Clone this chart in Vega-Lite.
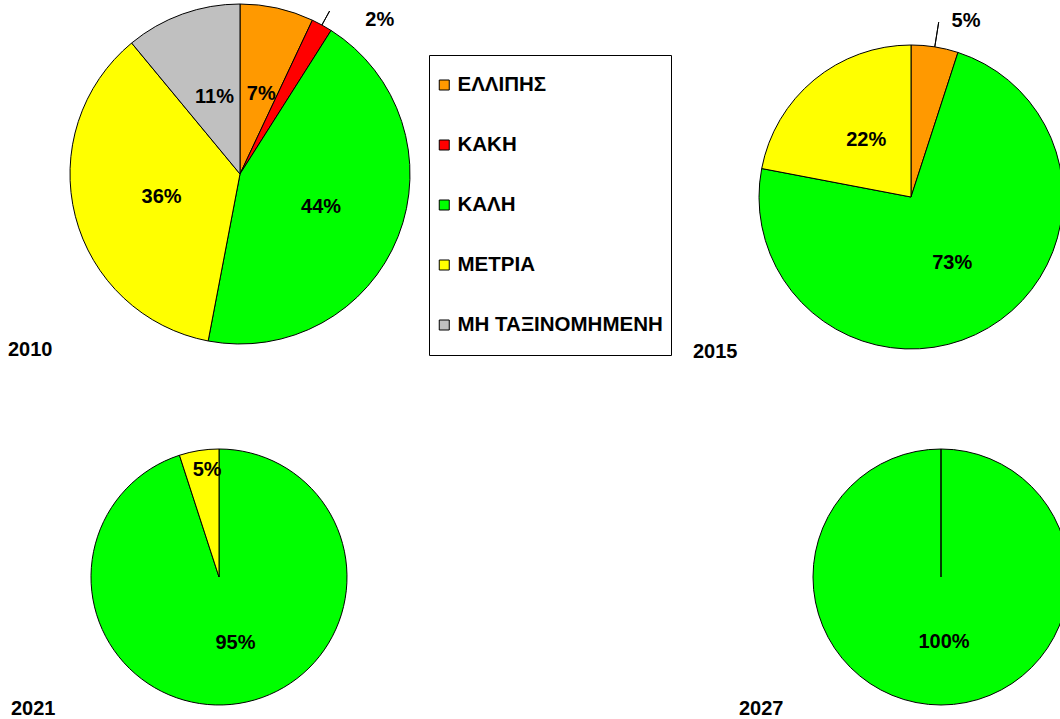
{
  "$schema": "https://vega.github.io/schema/vega-lite/v6.json",
  "padding": 0,
  "background": "white",
  "data": {"values": [
    {"year": 2010, "cat": "ΕΛΛΙΠΗΣ", "value": 0.07},
    {"year": 2010, "cat": "ΚΑΚΗ", "value": 0.02},
    {"year": 2010, "cat": "ΚΑΛΗ", "value": 0.44},
    {"year": 2010, "cat": "ΜΕΤΡΙΑ", "value": 0.36},
    {"year": 2010, "cat": "ΜΗ ΤΑΞΙΝΟΜΗΜΕΝΗ", "value": 0.11},
    {"year": 2015, "cat": "ΕΛΛΙΠΗΣ", "value": 0.05},
    {"year": 2015, "cat": "ΚΑΛΗ", "value": 0.73},
    {"year": 2015, "cat": "ΜΕΤΡΙΑ", "value": 0.22},
    {"year": 2021, "cat": "ΚΑΛΗ", "value": 0.95},
    {"year": 2021, "cat": "ΜΕΤΡΙΑ", "value": 0.05},
    {"year": 2027, "cat": "ΚΑΛΗ", "value": 1.0}
  ]},
  "spacing": 53,
  "vconcat": [
    {
      "hconcat": [
        {
          "width": 480, "height": 348,
          "title": {"text": "2010", "orient": "bottom", "anchor": "start", "frame": "group", "offset": 8, "dx": 8, "baseline": "alphabetic", "font": "Liberation Sans", "fontSize": 20, "fontWeight": "bold", "color": "black"},
          "transform": [{"filter": "datum.year == 2010"}],
          "layer": [
            {
              "mark": {"type": "arc", "outerRadius": 170, "stroke": "black", "strokeWidth": 1},
              "encoding": {
                "theta": {"field": "value", "type": "quantitative", "stack": true, "scale": {"domain": [0, 1]}},
                "order": {"field": "cat", "type": "ordinal"},
                "color": {"field": "cat", "type": "nominal", "scale": {"domain": ["ΕΛΛΙΠΗΣ", "ΚΑΚΗ", "ΚΑΛΗ", "ΜΕΤΡΙΑ", "ΜΗ ΤΑΞΙΝΟΜΗΜΕΝΗ"], "range": ["#FF9900", "#FF0000", "#00FF00", "#FFFF00", "#C0C0C0"]}, "legend": {"orient": "none", "legendX": 429, "legendY": 55, "title": null, "direction": "vertical", "symbolStrokeColor": "black"}}
              }
            },
            {
              "mark": {"type": "text", "radius": 84, "dx": 3, "dy": 2},
              "encoding": {
                "theta": {"field": "value", "type": "quantitative", "stack": true, "scale": {"domain": [0, 1]}},
                "order": {"field": "cat", "type": "ordinal"},
                "detail": {"field": "cat", "type": "nominal"},
                "text": {"field": "value", "type": "quantitative", "format": ".0%"},
                "opacity": {"condition": {"test": "datum.cat === 'ΚΑΚΗ'", "value": 0}, "value": 1}
              }
            },
            {
              "transform": [
                {"stack": "value", "groupby": [], "sort": [{"field": "cat", "order": "ascending"}], "as": ["v0", "v1"]},
                {"filter": "datum.cat === 'ΚΑΚΗ'"}
              ],
              "mark": {"type": "arc", "innerRadius": 170, "outerRadius": 186, "padAngle": 1.2, "stroke": "black", "strokeWidth": 1, "fill": "transparent"},
              "encoding": {
                "theta": {"field": "v0", "type": "quantitative", "scale": {"domain": [0, 1]}},
                "theta2": {"field": "v1"}
              }
            },
            {
              "transform": [
                {"stack": "value", "groupby": [], "sort": [{"field": "cat", "order": "ascending"}], "as": ["v0", "v1"]},
                {"filter": "datum.cat === 'ΚΑΚΗ'"}
              ],
              "mark": {"type": "text", "radius": 185, "dx": 61, "dy": 13},
              "encoding": {
                "theta": {"field": "v0", "type": "quantitative", "scale": {"domain": [0, 1]}},
                "text": {"field": "value", "type": "quantitative", "format": ".0%"}
              }
            }
          ]
        },
        {
          "width": 304, "height": 394,
          "title": {"text": "2015", "orient": "bottom", "anchor": "start", "frame": "group", "offset": -36, "dx": -66, "baseline": "alphabetic", "font": "Liberation Sans", "fontSize": 20, "fontWeight": "bold", "color": "black"},
          "transform": [{"filter": "datum.year == 2015"}],
          "layer": [
            {
              "mark": {"type": "arc", "outerRadius": 152, "stroke": "black", "strokeWidth": 1},
              "encoding": {
                "theta": {"field": "value", "type": "quantitative", "stack": true, "scale": {"domain": [0, 1]}},
                "order": {"field": "cat", "type": "ordinal"},
                "color": {"field": "cat", "type": "nominal", "scale": {"domain": ["ΕΛΛΙΠΗΣ", "ΚΑΚΗ", "ΚΑΛΗ", "ΜΕΤΡΙΑ", "ΜΗ ΤΑΞΙΝΟΜΗΜΕΝΗ"], "range": ["#FF9900", "#FF0000", "#00FF00", "#FFFF00", "#C0C0C0"]}, "legend": {"orient": "none", "legendX": 429, "legendY": 55, "title": null, "direction": "vertical", "symbolStrokeColor": "black"}}
              }
            },
            {
              "mark": {"type": "text", "radius": 75, "dx": 3, "dy": 1},
              "encoding": {
                "theta": {"field": "value", "type": "quantitative", "stack": true, "scale": {"domain": [0, 1]}},
                "order": {"field": "cat", "type": "ordinal"},
                "detail": {"field": "cat", "type": "nominal"},
                "text": {"field": "value", "type": "quantitative", "format": ".0%"},
                "opacity": {"condition": {"test": "datum.cat === 'ΕΛΛΙΠΗΣ'", "value": 0}, "value": 1}
              }
            },
            {
              "transform": [
                {"stack": "value", "groupby": [], "sort": [{"field": "cat", "order": "ascending"}], "as": ["v0", "v1"]},
                {"filter": "datum.cat === 'ΕΛΛΙΠΗΣ'"}
              ],
              "mark": {"type": "arc", "innerRadius": 152, "outerRadius": 177, "padAngle": 1.2, "stroke": "black", "strokeWidth": 1, "fill": "transparent"},
              "encoding": {
                "theta": {"field": "v0", "type": "quantitative", "scale": {"domain": [0, 1]}},
                "theta2": {"field": "v1"}
              }
            },
            {
              "transform": [
                {"stack": "value", "groupby": [], "sort": [{"field": "cat", "order": "ascending"}], "as": ["v0", "v1"]},
                {"filter": "datum.cat === 'ΕΛΛΙΠΗΣ'"}
              ],
              "mark": {"type": "text", "radius": 176, "dx": 55, "dy": 0},
              "encoding": {
                "theta": {"field": "v0", "type": "quantitative", "scale": {"domain": [0, 1]}},
                "text": {"field": "value", "type": "quantitative", "format": ".0%"}
              }
            }
          ]
        }
      ],
      "spacing": 279,
      "bounds": "flush"
    },
    {
      "hconcat": [
        {
          "width": 438, "height": 256,
          "title": {"text": "2021", "orient": "bottom", "anchor": "start", "frame": "group", "offset": 8, "dx": 11, "baseline": "alphabetic", "font": "Liberation Sans", "fontSize": 20, "fontWeight": "bold", "color": "black"},
          "transform": [{"filter": "datum.year == 2021"}],
          "layer": [
            {
              "mark": {"type": "arc", "outerRadius": 128, "stroke": "black", "strokeWidth": 1},
              "encoding": {
                "theta": {"field": "value", "type": "quantitative", "stack": true, "scale": {"domain": [0, 1]}},
                "order": {"field": "cat", "type": "ordinal"},
                "color": {"field": "cat", "type": "nominal", "scale": {"domain": ["ΕΛΛΙΠΗΣ", "ΚΑΚΗ", "ΚΑΛΗ", "ΜΕΤΡΙΑ", "ΜΗ ΤΑΞΙΝΟΜΗΜΕΝΗ"], "range": ["#FF9900", "#FF0000", "#00FF00", "#FFFF00", "#C0C0C0"]}, "legend": {"orient": "none", "legendX": 429, "legendY": 55, "title": null, "direction": "vertical", "symbolStrokeColor": "black"}}
              }
            },
            {
              "mark": {"type": "text", "radius": 67, "dx": 6},
              "encoding": {
                "theta": {"field": "value", "type": "quantitative", "stack": true, "scale": {"domain": [0, 1]}},
                "order": {"field": "cat", "type": "ordinal"},
                "detail": {"field": "cat", "type": "nominal"},
                "text": {"field": "value", "type": "quantitative", "format": ".0%"},
                "opacity": {"condition": {"test": "datum.cat === 'ΜΕΤΡΙΑ'", "value": 0}, "value": 1}
              }
            },
            {
              "mark": {"type": "text", "radius": 108, "dx": 5},
              "encoding": {
                "theta": {"field": "value", "type": "quantitative", "stack": true, "scale": {"domain": [0, 1]}},
                "order": {"field": "cat", "type": "ordinal"},
                "detail": {"field": "cat", "type": "nominal"},
                "text": {"field": "value", "type": "quantitative", "format": ".0%"},
                "opacity": {"condition": {"test": "datum.cat === 'ΜΕΤΡΙΑ'", "value": 1}, "value": 0}
              }
            }
          ]
        },
        {
          "width": 256, "height": 256,
          "title": {"text": "2027", "orient": "bottom", "anchor": "start", "frame": "group", "offset": 8, "dx": -74, "baseline": "alphabetic", "font": "Liberation Sans", "fontSize": 20, "fontWeight": "bold", "color": "black"},
          "transform": [{"filter": "datum.year == 2027"}],
          "layer": [
            {
              "mark": {"type": "arc", "outerRadius": 128, "stroke": "black", "strokeWidth": 1},
              "encoding": {
                "theta": {"field": "value", "type": "quantitative", "stack": true, "scale": {"domain": [0, 1]}},
                "order": {"field": "cat", "type": "ordinal"},
                "color": {"field": "cat", "type": "nominal", "scale": {"domain": ["ΕΛΛΙΠΗΣ", "ΚΑΚΗ", "ΚΑΛΗ", "ΜΕΤΡΙΑ", "ΜΗ ΤΑΞΙΝΟΜΗΜΕΝΗ"], "range": ["#FF9900", "#FF0000", "#00FF00", "#FFFF00", "#C0C0C0"]}, "legend": {"orient": "none", "legendX": 429, "legendY": 55, "title": null, "direction": "vertical", "symbolStrokeColor": "black"}}
              }
            },
            {
              "mark": {"type": "arc", "theta": 0, "theta2": 0.000001, "outerRadius": 128, "stroke": "black", "strokeWidth": 1, "fill": "transparent"},
              "encoding": {}
            },
            {
              "mark": {"type": "text", "radius": 65, "dx": 3},
              "encoding": {
                "theta": {"field": "value", "type": "quantitative", "stack": true, "scale": {"domain": [0, 1]}},
                "order": {"field": "cat", "type": "ordinal"},
                "detail": {"field": "cat", "type": "nominal"},
                "text": {"field": "value", "type": "quantitative", "format": ".0%"}
              }
            }
          ]
        }
      ],
      "spacing": 375,
      "bounds": "flush"
    }
  ],
  "config": {
    "view": {"stroke": null},
    "legend": {
      "labelFont": "Liberation Sans", "labelFontSize": 20.5, "labelFontWeight": "bold", "labelColor": "black",
      "labelLimit": 400, "labelOffset": 3, "symbolOffset": -3,
      "symbolType": "square", "symbolSize": 100, "symbolStrokeColor": "black", "symbolStrokeWidth": 1, "symbolOpacity": 1,
      "strokeColor": "black", "fillColor": "white", "padding": 8, "rowPadding": 16, "clipHeight": 44
    },
    "text": {"font": "Liberation Sans", "fontSize": 20, "fontWeight": "bold", "color": "black"}
  }
}
